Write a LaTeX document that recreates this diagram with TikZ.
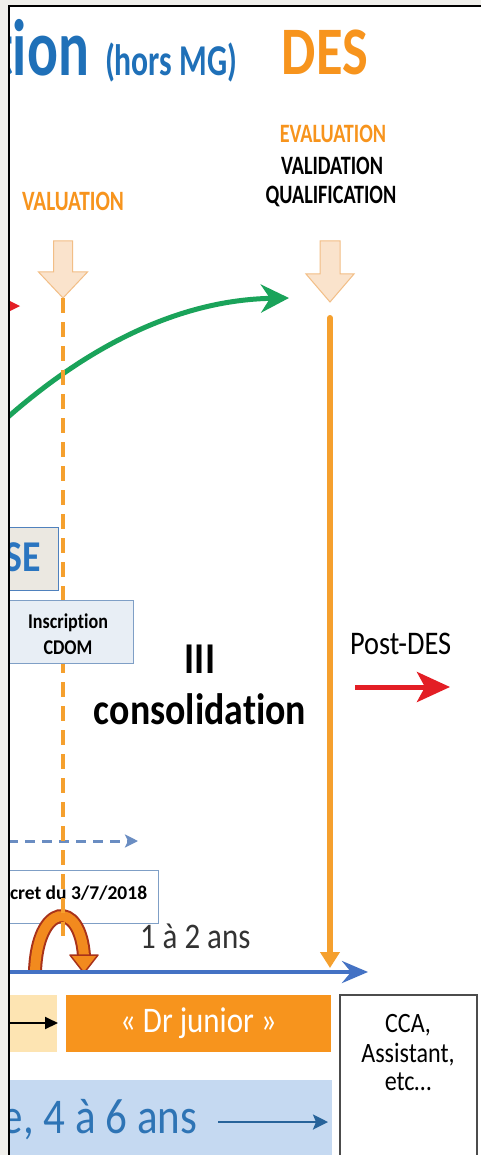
\documentclass[tikz,border=0pt]{standalone}
\usepackage{fontspec}
\setmainfont{Carlito}[FakeStretch=0.86, Ligatures=CommonOff]
\newfontfamily\plainfont{Carlito}[Ligatures=CommonOff]
\newfontfamily\desfont{Carlito}[FakeStretch=0.8, Ligatures=CommonOff]
\newfontfamily\narrowfont{Carlito}[FakeStretch=0.72, Ligatures=CommonOff]
\newfontfamily\headfont{Carlito}[FakeStretch=0.76, Ligatures=CommonOff]
\usetikzlibrary{arrows.meta}

\definecolor{framegray}{HTML}{F0EFEB}
\definecolor{titleblue}{HTML}{1F70B8}
\definecolor{desorange}{HTML}{F7941D}
\definecolor{peach}{HTML}{FAE3CC}
\definecolor{peachline}{HTML}{F2BE86}
\definecolor{lineorange}{HTML}{F5A02E}
\definecolor{arcgreen}{HTML}{1AA35A}
\definecolor{postred}{HTML}{E31E25}
\definecolor{sebox}{HTML}{EBE8E1}
\definecolor{seline}{HTML}{4F81BD}
\definecolor{setext}{HTML}{2A75C0}
\definecolor{cdombox}{HTML}{E8EEF5}
\definecolor{cdomline}{HTML}{7F9FC6}
\definecolor{dashblue}{HTML}{6A8DC2}
\definecolor{timeblue}{HTML}{4472C4}
\definecolor{paleorange}{HTML}{FDE4B2}
\definecolor{paleblue}{HTML}{C5D9F1}
\definecolor{yearsblue}{HTML}{2E74B5}
\definecolor{udark}{HTML}{A8321A}
\definecolor{ufill}{HTML}{F28A1E}
\definecolor{textgray}{HTML}{333333}

\newcommand{\fs}[1]{\fontsize{#1}{#1}\selectfont}

\tikzset{
  box/.style={anchor=north west, inner sep=0, outer sep=0},
  txt/.style={inner sep=0, outer sep=0},
  blockarrow/.style={fill=peach, draw=peachline, line width=1, line join=miter},
}

\begin{document}
\begin{tikzpicture}[x=1pt, y=-1pt]
\useasboundingbox (0,0) rectangle (481,1155);
\fill[framegray] (0,0) rectangle (481,1155);
\fill[white] (9,7) rectangle (481,1155);

\begin{scope}
\clip (9.5,7.5) rectangle (481,1155);

% headings
\node[txt, anchor=base east, text=titleblue, font=\narrowfont\bfseries\fs{80}] (tion) at (89,76) {tion};
\node[txt, anchor=base west, text=titleblue, font=\narrowfont\bfseries\fs{44}] (hors) at (105,76) {(hors MG)};
\node[txt, anchor=base, text=desorange, font=\desfont\bfseries\fs{68}] (des) at (325,75) {DES};

\node[txt, anchor=base, text=desorange, font=\headfont\bfseries\fs{26.5}] (eval) at (333,143) {EVALUATION};
\node[txt, anchor=base, font=\headfont\bfseries\fs{26.5}] (valid) at (332,175) {VALIDATION};
\node[txt, anchor=base, font=\headfont\bfseries\fs{26.5}] (qualif) at (331,204) {QUALIFICATION};
\node[txt, anchor=base east, text=desorange, font=\headfont\bfseries\fs{28}] (evalL) at (124,211) {VALUATION};

% downward block arrows
\filldraw[blockarrow] (53.5,241) -- (72.5,241) -- (72.5,272) -- (87.5,272) -- (63,298)
  -- (38.5,272) -- (53.5,272) -- cycle;
\filldraw[blockarrow] (320,241) -- (340,241) -- (340,274) -- (354,274) -- (330,302)
  -- (306,274) -- (320,274) -- cycle;

% green curved arrow
\coordinate (gA) at (8,417);
\coordinate (gB) at (289,298);
\draw[arcgreen, line width=5, -{Stealth[length=28pt, width=28pt, inset=9pt]}]
  (gA) .. controls (90,345) and (180,300) .. (gB);

% red arrow tip at the frame edge
\fill[postred] (4,298) -- (20,306) -- (4,314) -- cycle;

% SE box
\node[box, draw=seline, fill=sebox, line width=1, minimum width=63, minimum height=63] (sebox) at (-5,527) {};
\node[txt, anchor=base east, text=setext, font=\bfseries\fs{44}] (setxt) at (41,571) {SE};

% decree box
\node[box, draw=cdomline, fill=white, line width=1, minimum width=163, minimum height=53] (decret) at (-5,870) {};
\node[txt, anchor=base west, font=\plainfont\bfseries\fs{19.5}] (dectxt) at (10,899) {cret du 3/7/2018};

% blue dashed arrow
\coordinate (bdA) at (8,841);
\coordinate (bdB) at (138,841);
\draw[dashblue, line width=3, dash pattern=on 10pt off 7pt, -{Stealth[length=13pt, width=13pt, inset=3pt]}] (bdA) -- (bdB);

% U-turn arrow
\coordinate (uA) at (35,972);
\coordinate (uB) at (84,956);
\draw[udark, line width=14] (uA) .. controls (37,903) and (80,898) .. (uB);
\draw[ufill, line width=10] (uA) .. controls (37,903) and (80,898) .. (uB);
\filldraw[fill=ufill, draw=udark, line width=1.5, line join=round] (70,955) -- (98,955) -- (84,973) -- cycle;

% dashed evaluation line
\coordinate (dA) at (63,298);
\coordinate (dB) at (63,936);
\draw[lineorange, line width=3.5, dash pattern=on 15pt off 9pt] (dA) -- (dB);

% CDOM box
\node[box, draw=cdomline, fill=cdombox, line width=1, minimum width=138, minimum height=63] (cdom) at (-5,600) {};
\node[txt, anchor=base, font=\bfseries\fs{21}] (insc) at (68,628) {Inscription};
\node[txt, anchor=base, font=\bfseries\fs{21}] (cdomtxt) at (68,654) {CDOM};

% DES end line
\coordinate (oA) at (330,318);
\coordinate (oB) at (330,968);
\draw[lineorange, line width=6, line cap=round, -{Triangle[length=16pt, width=19pt]}] (oA) -- (oB);

% consolidation
\node[txt, anchor=base, font=\bfseries\fs{44}] (iii) at (200,673) {III};
\node[txt, anchor=base, font=\bfseries\fs{44}] (consol) at (200,724) {consolidation};

% post-DES
\node[txt, anchor=base west, font=\fs{33}] (post) at (350,654) {Post-DES};
\coordinate (pA) at (355,687);
\coordinate (pB) at (450,687);
\draw[postred, line width=5, -{Stealth[length=33pt, width=30pt, inset=8pt]}] (pA) -- (pB);

% timeline
\node[txt, anchor=base west, text=textgray, font=\fs{36}] (ans12) at (140,948) {1 à 2 ans};
\coordinate (tA) at (8,972);
\coordinate (tB) at (368,972);
\draw[timeblue, line width=4, -{Stealth[length=26pt, width=22pt, inset=9pt]}] (tA) -- (tB);

% bottom row
\node[box, fill=paleorange, minimum width=62, minimum height=57] (pre) at (-5,995) {};
\coordinate (kA) at (8,1023);
\coordinate (kB) at (58,1023);
\draw[black, line width=2, -{Triangle[length=13pt, width=12pt]}] (kA) -- (kB);
\node[box, fill=desorange, minimum width=265, minimum height=57] (jr) at (66,995) {};
\node[txt, text=white, font=\fs{36}] (jrtxt) at (jr.center) {« Dr junior »};

\node[box, draw=black!70, fill=white, line width=1.2, minimum width=137, minimum height=180] (cca) at (340,995) {};
\node[txt, anchor=base, font=\fs{28}] (cca1) at (408,1032) {CCA,};
\node[txt, anchor=base, font=\fs{28}] (cca2) at (408,1062) {Assistant,};
\node[txt, anchor=base, font=\fs{28}] (cca3) at (408,1090) {etc…};

\node[box, fill=paleblue, minimum width=337, minimum height=90] (yrs) at (-5,1080) {};
\node[txt, anchor=base east, text=yearsblue, font=\fs{50}] (yrtxt) at (197,1133) {e, 4 à 6 ans};
\coordinate (yA) at (218,1122);
\coordinate (yB) at (328,1122);
\draw[yearsblue!85!black, line width=2.5, -{Stealth[length=15pt, width=15pt, inset=3pt]}] (yA) -- (yB);
\end{scope}

% frame
\draw[black, line width=2] (8.5,1155) -- (8.5,6.5) -- (481,6.5);
\end{tikzpicture}
\end{document}
